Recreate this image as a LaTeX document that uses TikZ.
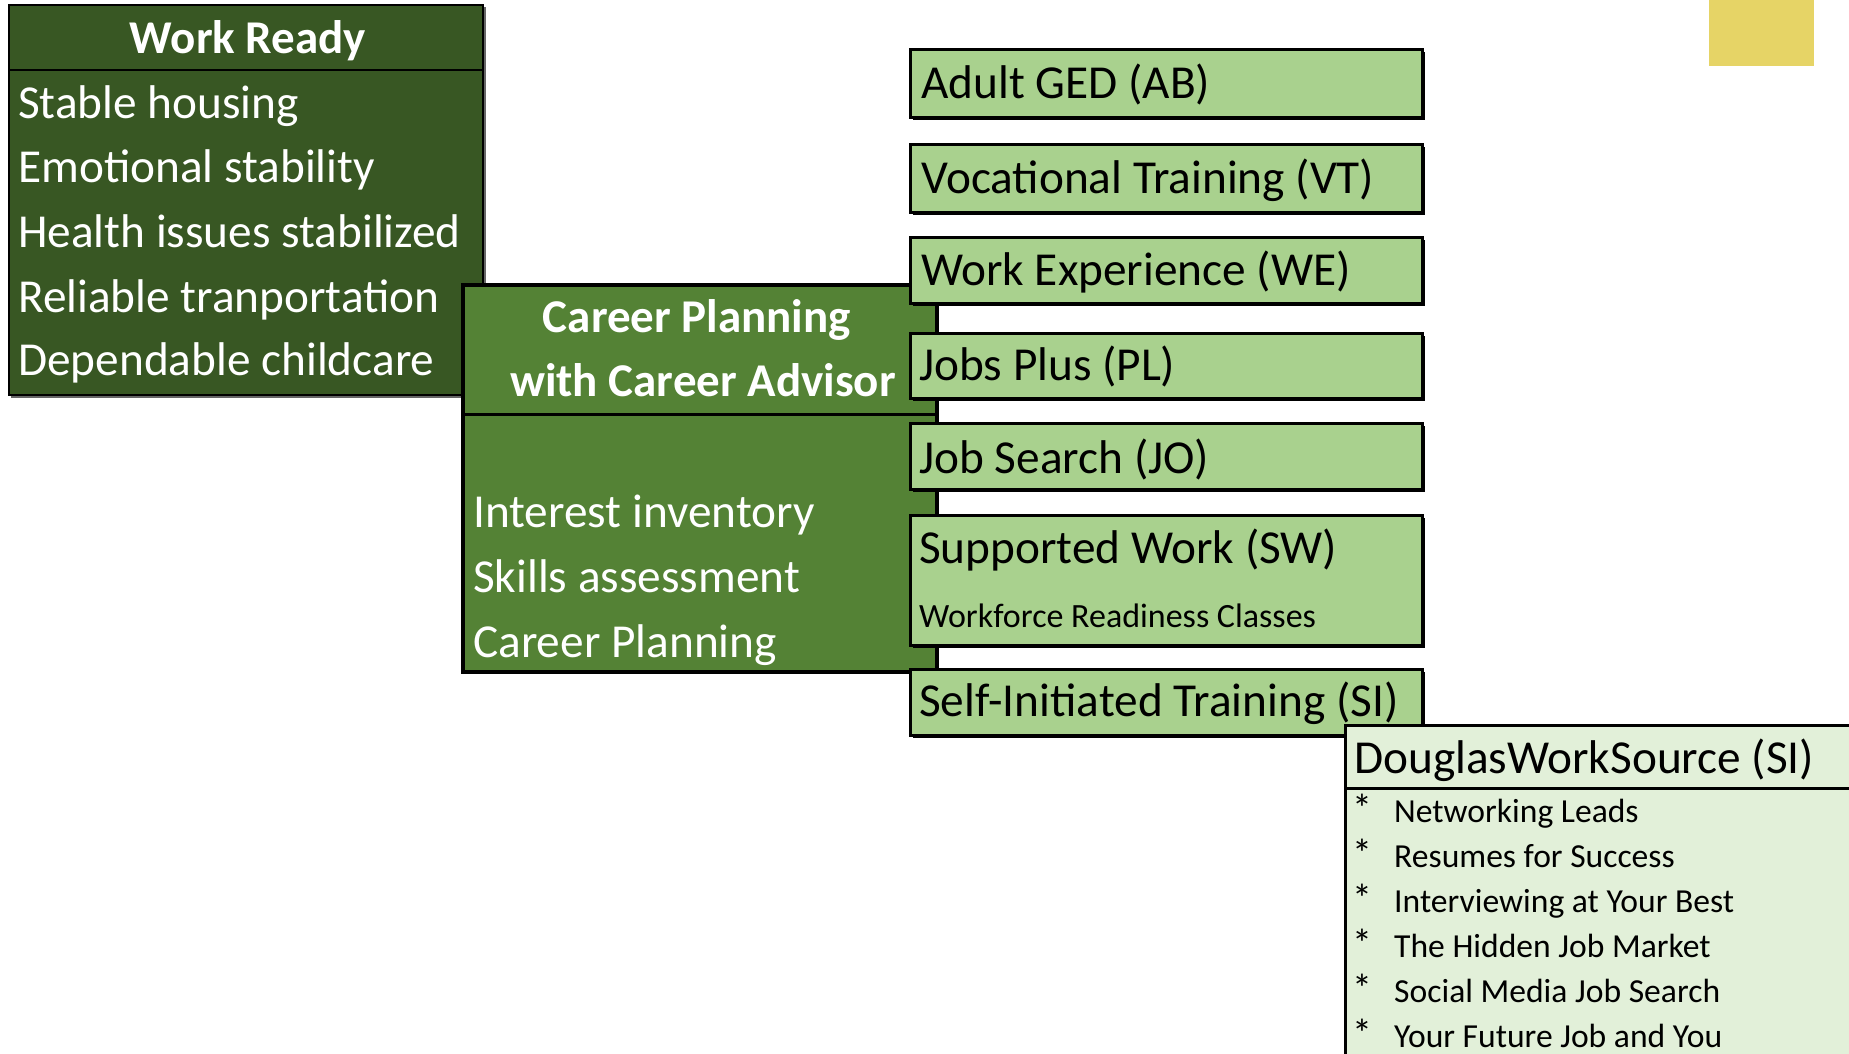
\documentclass[tikz,border=0pt]{standalone}
\usepackage{fontspec}
\setmainfont{Carlito}
\definecolor{wrgreen}{HTML}{385723}
\definecolor{cpgreen}{HTML}{548235}
\definecolor{ltgreen}{HTML}{A9D18E}
\definecolor{palegreen}{HTML}{E2F0D9}
\definecolor{sqyellow}{HTML}{E6D466}
\tikzset{
  big/.style={font=\fontsize{47.3}{52}\selectfont, inner sep=0pt, anchor=base west},
  bigbold/.style={font=\fontsize{47}{52}\selectfont\bfseries, inner sep=0pt, anchor=base, text=white},
  small/.style={font=\fontsize{34}{40}\selectfont, inner sep=0pt, anchor=base west},
  bullet/.style={font=\fontsize{33.6}{40}\selectfont, inner sep=0pt, anchor=base west},
  star/.style={font=\fontsize{40}{40}\selectfont, inner sep=0pt, anchor=base west},
  whitetxt/.style={big, text=white},
  optbox/.style={fill=ltgreen, draw=black, line width=3pt},
  optshadow/.style={fill=black},
}
\begin{document}
\begin{tikzpicture}[x=1pt,y=-1pt]
\useasboundingbox (0,0) rectangle (1849,1053);
% yellow square
\fill[sqyellow] (1709,0) rectangle (1814,66);
% Work Ready box
\fill[black!60] (11,7) rectangle (486,398);
\draw[fill=wrgreen, line width=2.5pt] (9,5) rectangle (483,395);
\draw[line width=2.5pt] (9,70) -- (483,70);
\node[bigbold] (wrh) at (248,53) {Work Ready};
\node[whitetxt] (wr1) at (18,118) {Stable housing};
\node[whitetxt] (wr2) at (18,182) {Emotional stability};
\node[whitetxt] (wr3) at (18,247) {Health issues stabilized};
\node[whitetxt] (wr4) at (18,312) {Reliable tranportation};
\node[whitetxt] (wr5) at (18,375) {Dependable childcare};
% Career Planning box
\draw[fill=cpgreen, line width=3.5pt] (463,285) rectangle (937,672);
\draw[line width=3pt] (463,414) -- (937,414);
\node[bigbold] (cph1) at (697,332) {Career Planning};
\node[bigbold] (cph2) at (703,396) {with Career Advisor};
\node[whitetxt] (cp1) at (473,527) {Interest inventory};
\node[whitetxt] (cp2) at (473,592) {Skills assessment};
\node[whitetxt] (cp3) at (473,657) {Career Planning};
% option boxes
\foreach \t/\b in {49/117,144/212,237/303,333/398,423/489,515/645,669/735}{
  \fill[optshadow] (913,\t+3) rectangle (1425,\b+3);
  \draw[optbox] (910,\t) rectangle (1422,\b);
}
\node[big] (ab) at (921,98) {Adult GED (AB)};
\node[big] (vt) at (921,193) {Vocational Training (VT)};
\node[big] (we) at (921,285) {Work Experience (WE)};
\node[big] (pl) at (919,380) {Jobs Plus (PL)};
\node[big] (jo) at (919,473) {Job Search (JO)};
\node[big] (sw) at (919,563) {Supported Work (SW)};
\node[small] (wrc) at (919,627) {Workforce Readiness Classes};
\node[big] (si) at (919,716) {Self-Initiated Training (SI)};
% DouglasWorkSource
\draw[fill=palegreen, line width=3pt] (1345,725) rectangle (1860,1070);
\draw[line width=3pt] (1345,788) -- (1860,788);
\node[big] (dws) at (1354,773) {DouglasWorkSource (SI)};
\foreach \n/\y/\txt in {a/822/Networking Leads,b/867/Resumes for Success,c/912/Interviewing at Your Best,d/957/The Hidden Job Market,e/1002/Social Media Job Search,f/1047/Your Future Job and You}{
  \node[star] (st\n) at (1352,\y) {*};
  \node[bullet] (dw\n) at (1394,\y) {\txt};
}
\end{tikzpicture}
\end{document}
